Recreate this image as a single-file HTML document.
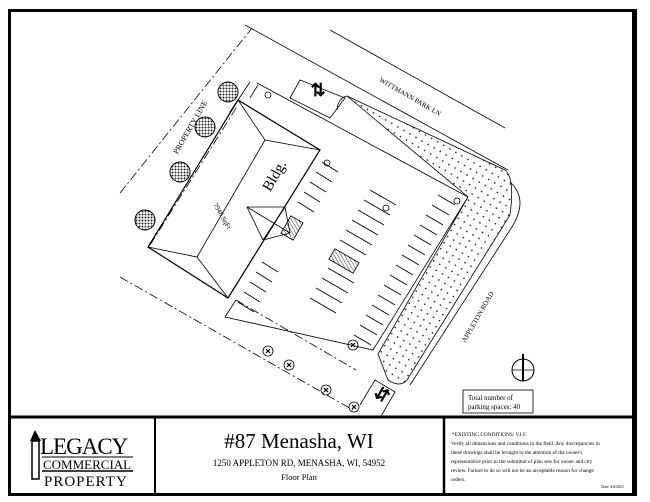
<!DOCTYPE html>
<html><head><style>
html,body{margin:0;padding:0;background:#fff;width:650px;height:502px;overflow:hidden}
svg{display:block}
text{font-family:"Liberation Serif",serif;fill:#000}
</style></head><body>
<svg width="650" height="502" viewBox="0 0 650 502" xmlns="http://www.w3.org/2000/svg">
<defs>
<pattern id="dots" width="7" height="7" patternUnits="userSpaceOnUse" patternTransform="rotate(30)">
<circle cx="2" cy="2" r="0.8" fill="#000"/></pattern>
<pattern id="hatch" width="3" height="3" patternUnits="userSpaceOnUse" patternTransform="rotate(-60)">
<line x1="0" y1="0" x2="0" y2="3" stroke="#000" stroke-width="0.8"/></pattern>
<pattern id="leaf" width="3" height="3" patternUnits="userSpaceOnUse">
<rect width="3" height="3" fill="#fff"/><circle cx="1.5" cy="1.5" r="1" fill="#222"/></pattern>
</defs>
<!-- frame -->
<rect x="9.5" y="10.5" width="626" height="484" fill="none" stroke="#000" stroke-width="3"/>
<line x1="634" y1="10" x2="634" y2="496" stroke="#000" stroke-width="4"/>
<line x1="9" y1="417" x2="637" y2="417" stroke="#000" stroke-width="3"/>
<line x1="155" y1="417" x2="155" y2="494" stroke="#000" stroke-width="2"/>
<line x1="444" y1="417" x2="444" y2="494" stroke="#000" stroke-width="2.5"/>

<!-- site plan -->
<g fill="none" stroke="#000" stroke-width="0.8">
<line x1="245" y1="25" x2="508" y2="170"/>
<line x1="330" y1="30" x2="505" y2="128"/>
<path d="M347,96 L505,170 Q515,178 510,215 L407,380 Q400,388 388,380 L378,354 L468,197 Z" fill="url(#dots)"/>
<path d="M337,110 Q338,98 347,96" />
<path d="M510,182 Q530,200 510,230 L410,385"/>
<path d="M257,83 L468,197 L373,350 L225,317 L236,300"/>
<line x1="258" y1="85" x2="250" y2="98"/>
<path d="M300,80 L345,98 L330,118 L290,98 Z"/>
<path d="M360,405 L375,380 L395,392 L380,418"/>
<path d="M120,193 L252,28" stroke-dasharray="9,3,2,3"/>
<path d="M120,277 L353,410" stroke-dasharray="9,3,2,3"/>
<path d="M150,245 L238,105" stroke-dasharray="9,3,2,3"/>
<path d="M236,300 L356,370" stroke-dasharray="9,3,2,3"/>
<path d="M250,82 L230,112"/>
<path d="M238,100 L320,150 L228,298 L148,247 Z" stroke-width="1.2"/>
<path d="M238,100 L265,140 L320,150 M265,140 L197,257 L148,247 M197,257 L228,298"/>
<path d="M247,207 L285,207 L290,233 L263,240 Z M247,207 L290,233 M285,207 L263,240"/>
<rect x="285" y="218" width="14" height="20" fill="url(#hatch)" transform="rotate(30 292 228)"/>
<rect x="330" y="255" width="28" height="12" fill="url(#hatch)" transform="rotate(30 344 261)"/>
<g stroke-width="0.9">
<line x1="322" y1="162" x2="338" y2="172"/><line x1="316" y1="172" x2="332" y2="182"/>
<line x1="310" y1="182" x2="326" y2="192"/><line x1="304" y1="192" x2="320" y2="202"/>
<line x1="298" y1="202" x2="314" y2="212"/>
<line x1="262" y1="262" x2="278" y2="272"/><line x1="256" y1="272" x2="272" y2="282"/>
<line x1="250" y1="282" x2="266" y2="292"/><line x1="244" y1="292" x2="260" y2="302"/>
<line x1="238" y1="302" x2="254" y2="312"/>
<line x1="370" y1="190" x2="396" y2="205"/><line x1="364" y1="200" x2="390" y2="215"/>
<line x1="358" y1="210" x2="384" y2="225"/><line x1="352" y1="220" x2="378" y2="235"/>
<line x1="346" y1="230" x2="372" y2="245"/><line x1="340" y1="240" x2="366" y2="255"/>
<line x1="328" y1="268" x2="354" y2="283"/><line x1="322" y1="278" x2="348" y2="293"/>
<line x1="316" y1="288" x2="342" y2="303"/><line x1="310" y1="298" x2="336" y2="313"/>
<line x1="438" y1="195" x2="455" y2="205"/><line x1="432" y1="205" x2="449" y2="215"/>
<line x1="426" y1="215" x2="443" y2="225"/><line x1="420" y1="225" x2="437" y2="235"/>
<line x1="414" y1="235" x2="431" y2="245"/><line x1="408" y1="245" x2="425" y2="255"/>
<line x1="402" y1="255" x2="419" y2="265"/><line x1="396" y1="265" x2="413" y2="275"/>
<line x1="390" y1="275" x2="407" y2="285"/><line x1="384" y1="285" x2="401" y2="295"/>
<line x1="378" y1="295" x2="395" y2="305"/><line x1="372" y1="305" x2="389" y2="315"/>
<line x1="366" y1="315" x2="383" y2="325"/><line x1="360" y1="325" x2="377" y2="335"/>
<line x1="354" y1="335" x2="371" y2="345"/>
</g>
<circle cx="268" cy="95" r="3"/><circle cx="327" cy="163" r="3"/><circle cx="386" cy="208" r="3"/><circle cx="457" cy="201" r="3"/>
<circle cx="353" cy="345" r="5"/><circle cx="268" cy="351" r="5"/><circle cx="289" cy="365" r="5"/><circle cx="326" cy="390" r="5"/><circle cx="354" cy="407" r="5"/>
<g stroke-width="1.2"><path d="M351,343 L355,347 M355,343 L351,347 M266,349 L270,353 M270,349 L266,353 M287,363 L291,367 M291,363 L287,367 M324,388 L328,392 M328,388 L324,392 M352,405 L356,409 M356,405 L352,409"/></g>
<circle cx="523" cy="370" r="11" stroke-width="1"/>
<line x1="512" y1="370" x2="534" y2="370"/><line x1="523" y1="354" x2="523" y2="381" stroke-width="2"/>
</g>
<!-- trees -->
<g fill="url(#leaf)" stroke="#000" stroke-width="1">
<circle cx="228" cy="92" r="10"/><circle cx="205" cy="127" r="10"/><circle cx="180" cy="172" r="10"/><circle cx="145" cy="220" r="10"/>
</g>
<!-- arrows -->
<text x="318" y="96" font-size="18" text-anchor="middle" font-weight="bold">⇅</text>
<text x="382" y="400" font-size="18" text-anchor="middle" font-weight="bold" transform="rotate(-60 382 394)">⇆</text>
<text x="275" y="180" font-size="15" text-anchor="middle" transform="rotate(-60 275 176)">Bldg.</text>
<text x="222" y="218" font-size="7" text-anchor="middle" transform="rotate(60 222 216)">7948 SqFt</text>
<text x="190" y="130" font-size="8" text-anchor="middle" transform="rotate(-60 190 127)">PROPERTY LINE</text>
<text x="410" y="99" font-size="7" text-anchor="middle" transform="rotate(30 410 97)">WITTMANN PARK LN</text>
<text x="478" y="319" font-size="7" text-anchor="middle" transform="rotate(-60 478 317)">APPLETON ROAD</text>
<rect x="463" y="390" width="70" height="23" fill="#fff" stroke="#000" stroke-width="0.8"/>
<text x="468" y="400" font-size="7">Total number of</text>
<text x="468" y="409" font-size="7">parking spaces: 40</text>

<!-- title block -->
<rect x="32" y="441" width="7" height="38" fill="#fff" stroke="#000" stroke-width="1.5"/>
<path d="M30,441 L35,430 L41,441 Z" fill="#000"/>
<text x="40" y="454" font-size="23" letter-spacing="-1">LEGACY</text>
<line x1="42" y1="457" x2="133" y2="457" stroke="#000" stroke-width="1"/>
<text x="43" y="469" font-size="13">COMMERCIAL</text>
<line x1="42" y1="471" x2="133" y2="471" stroke="#000" stroke-width="1.5"/>
<text x="44" y="486" font-size="15" letter-spacing="1">PROPERTY</text>
<text x="299" y="448" font-size="21" text-anchor="middle">#87 Menasha, WI</text>
<text x="299" y="466" font-size="9" text-anchor="middle">1250 APPLETON RD, MENASHA, WI, 54952</text>
<text x="299" y="480" font-size="8.5" text-anchor="middle">Floor Plan</text>
<g font-size="5.3">
<text x="452" y="436">*EXISTING CONDITIONS: V.I.F.</text>
<text x="451" y="445">Verify all dimensions and conditions in the field. Any discrepancies in</text>
<text x="451" y="454">these drawings shall be brought to the attention of the owner's</text>
<text x="451" y="463">representative prior to the submittal of plan sets for owner and city</text>
<text x="451" y="472">review. Failure to do so will not be an acceptable reason for change</text>
<text x="451" y="481">orders.</text>
<text x="624" y="488" font-size="4" text-anchor="end">Date 4/6/2021</text>
</g>
</svg>
</body></html>
